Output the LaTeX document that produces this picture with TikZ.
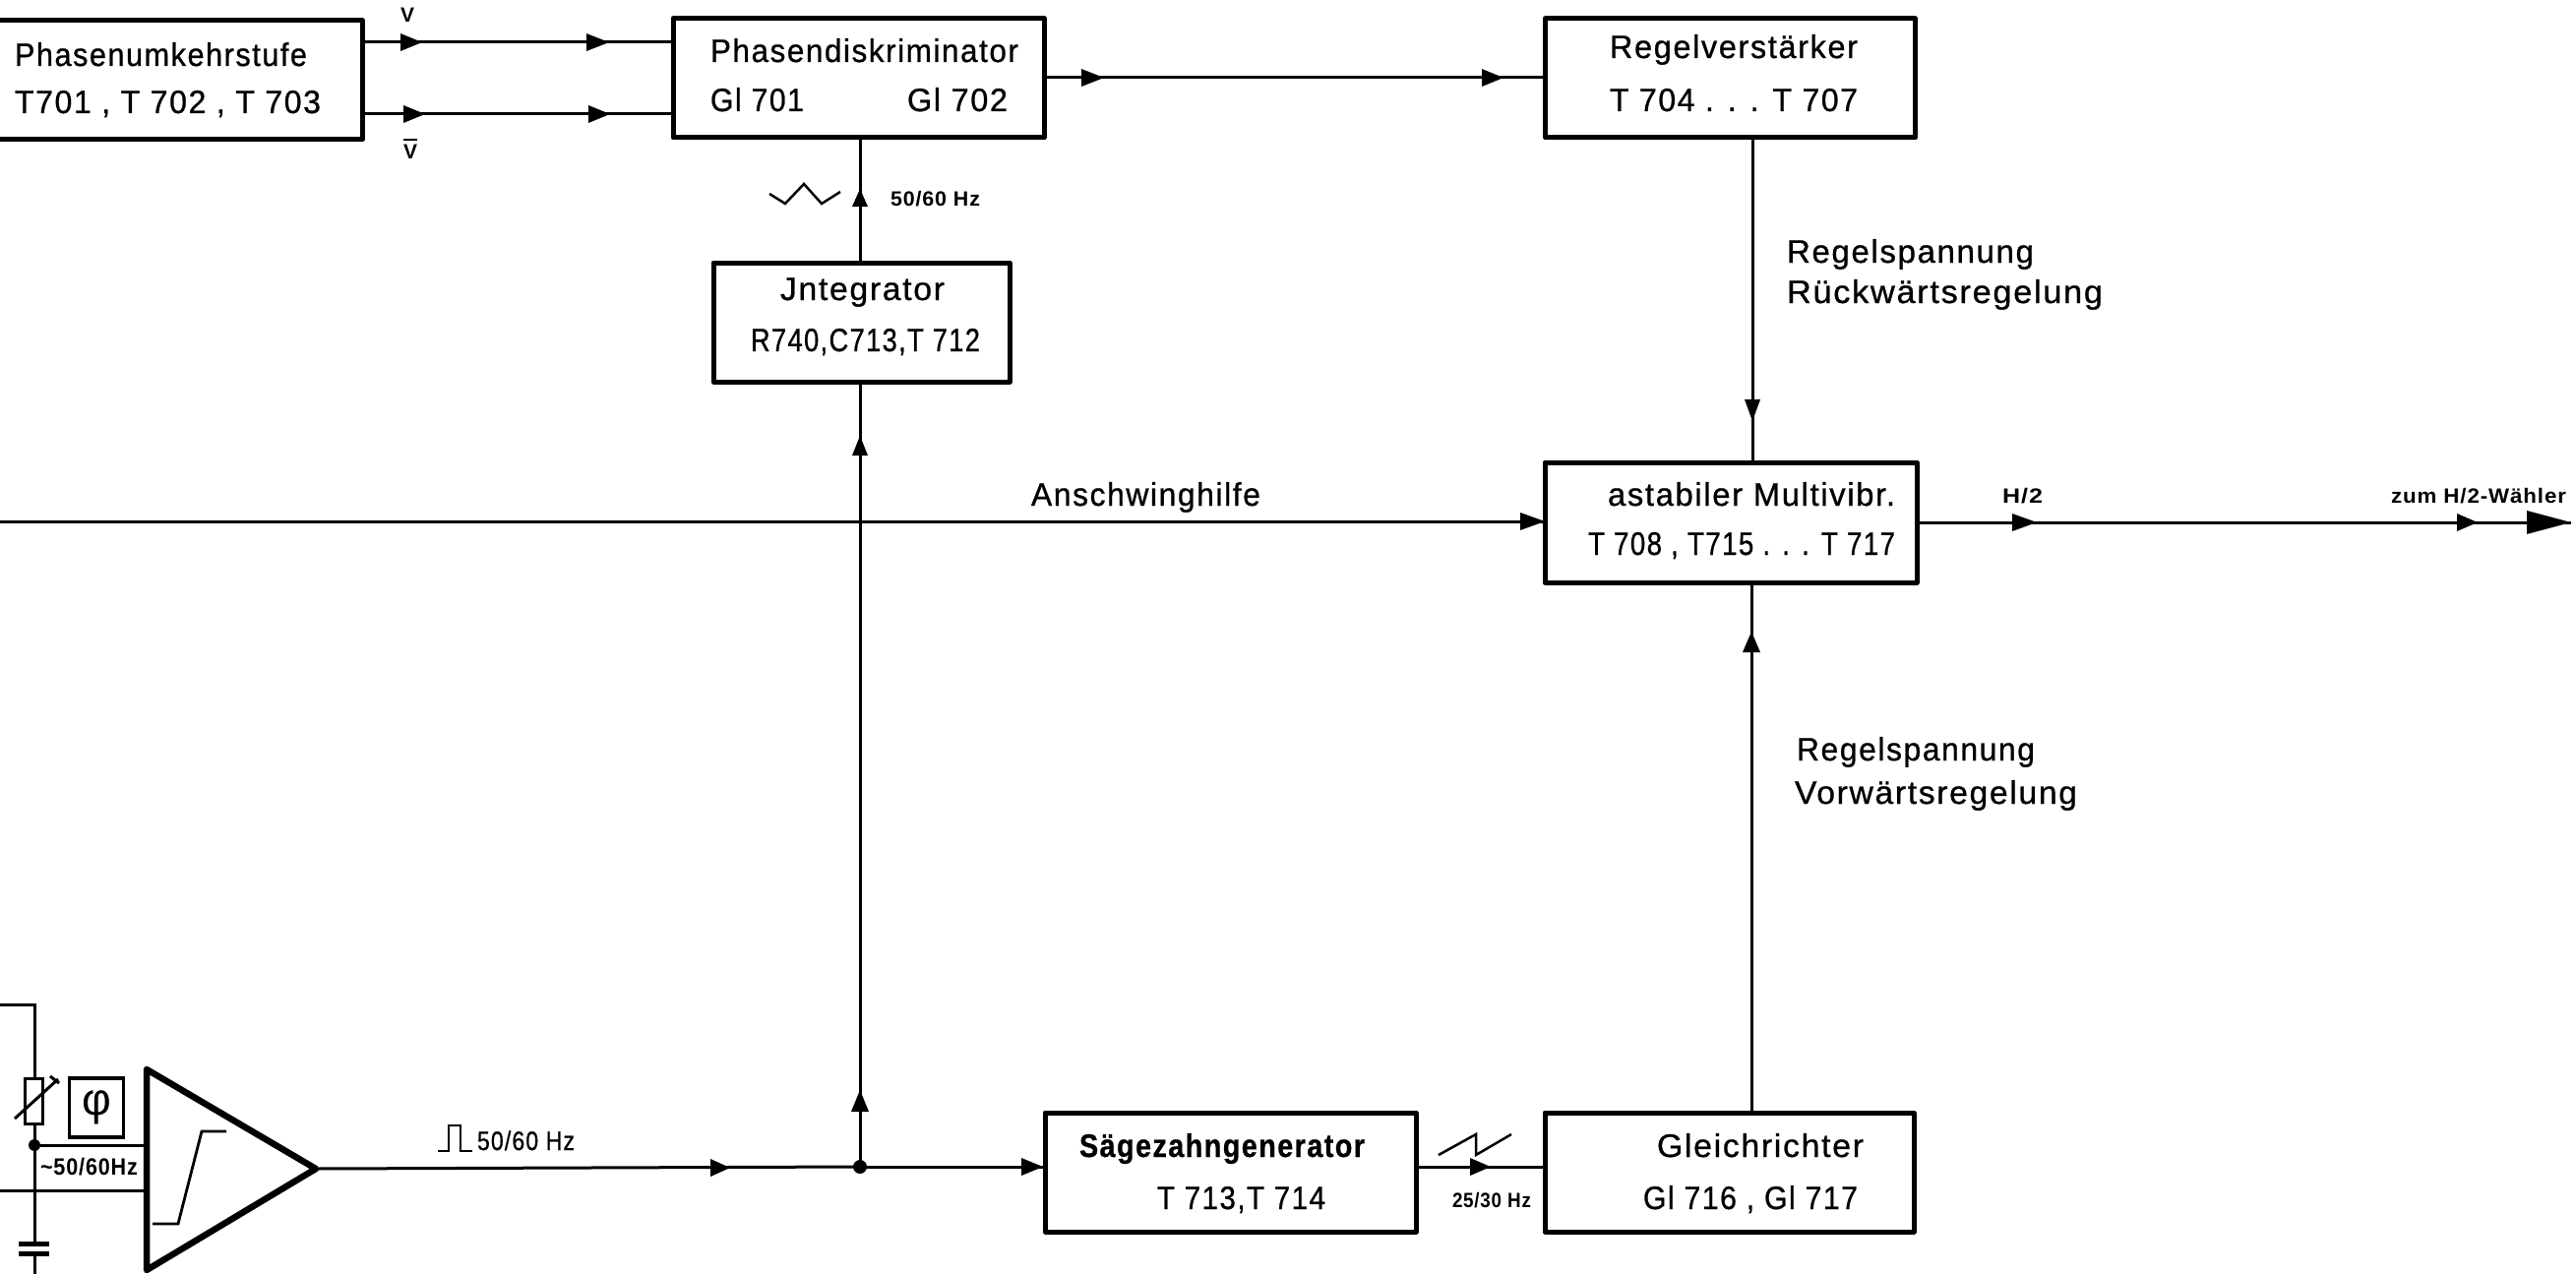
\documentclass[tikz,border=0pt]{standalone}
\usepackage{fontspec}
\usepackage{graphicx}
\setmainfont[FakeBold=0.8,LetterSpace=5]{Liberation Sans}
\newfontfamily\smallf[LetterSpace=4]{Liberation Sans Bold}
\newfontfamily\thinf{Liberation Sans}
\newcommand\fitw[2]{\resizebox{#1pt}{\height}{#2}}
\newcommand\tipR[4]{\fill (#1,#2) -- ++(-#3,#4) -- ++(0,-2*#4) -- cycle;}
\newcommand\tipU[4]{\fill (#1,#2) -- ++(-#4,#3) -- ++(2*#4,0) -- cycle;}
\newcommand\tipD[4]{\fill (#1,#2) -- ++(-#4,-#3) -- ++(2*#4,0) -- cycle;}
\tikzset{
  x=1pt,y=-1pt,
  blk/.style={draw,line width=5pt,rectangle,inner sep=0pt,line join=round},
  con/.style={line width=3pt},
  lbl/.style={anchor=base west,inner sep=0pt,outer sep=0pt,font=\fontsize{33}{36}\selectfont},
  sml/.style={anchor=base west,inner sep=0pt,outer sep=0pt,font=\fontsize{21}{23}\selectfont\smallf},
  jdot/.style={circle,fill,inner sep=0pt,minimum size=#1},
}
\begin{document}
\begin{tikzpicture}
\useasboundingbox (0,0) rectangle (2618,1295);
% blocks (centre from measured edges)
\node[blk,minimum width=378pt,minimum height=121pt] (pk) at (179,81.5) {};
\node[blk,minimum width=377pt,minimum height=121pt] (pd) at (872.5,79.5) {};
\node[blk,minimum width=301pt,minimum height=121pt] (int) at (875.5,327.5) {};
\node[blk,minimum width=376pt,minimum height=121pt] (rv) at (1758.5,79.5) {};
\node[blk,minimum width=378pt,minimum height=122pt] (mv) at (1759,531) {};
\node[blk,minimum width=377pt,minimum height=121pt] (sg) at (1250.5,1191.5) {};
\node[blk,minimum width=375pt,minimum height=121pt] (gr) at (1757.5,1191.5) {};
% block texts
\node[lbl] (t1a) at (15,67) {\fitw{297}{Phasenumkehrstufe}};
\node[lbl] (t1b) at (15,115) {\fitw{311}{T701 , T 702 , T 703}};
\node[lbl] (t2a) at (722,63) {\fitw{313}{Phasendiskriminator}};
\node[lbl] (t2b) at (722,113) {\fitw{95}{Gl 701}};
\node[lbl] (t2c) at (922,113) {\fitw{102}{Gl 702}};
\node[lbl] (t3a) at (793,305) {\fitw{167}{Jntegrator}};
\node[lbl] (t3b) at (763,357) {\fitw{233}{R740,C713,T 712}};
\node[lbl] (t4a) at (1636,59) {\fitw{252}{Regelverstärker}};
\node[lbl] (t4b) at (1636,113) {\fitw{252}{T 704 . . . T 707}};
\node[lbl] (t5a) at (1634,514) {\fitw{292}{astabiler Multivibr.}};
\node[lbl] (t5b) at (1614,564) {\fitw{312}{T 708 , T715 . . . T 717}};
\node[lbl] (t6a) at (1097,1176) {\fitw{290}{\bfseries Sägezahngenerator}};
\node[lbl] (t6b) at (1176,1229) {\fitw{171}{T 713,T 714}};
\node[lbl] (t7a) at (1684,1176) {\fitw{210}{Gleichrichter}};
\node[lbl] (t7b) at (1670,1229) {\fitw{218}{Gl 716 , Gl 717}};
% free labels
\node[lbl] (l1) at (1048,514) {\fitw{233}{Anschwinghilfe}};
\node[lbl] (l2) at (1816,267) {\fitw{251}{Regelspannung}};
\node[lbl] (l3) at (1816,308) {\fitw{321}{Rückwärtsregelung}};
\node[lbl] (l4) at (1826,773) {\fitw{242}{Regelspannung}};
\node[lbl] (l5) at (1824,817) {\fitw{287}{Vorwärtsregelung}};
\node[sml] (s1) at (407,23) {\fitw{14}{V}};
\node[sml] (s2) at (410,161) {\fitw{14}{V\llap{\raisebox{18pt}{\rule{14pt}{2pt}}}}};
\node[sml] (s3) at (905,209) {\fitw{91}{50/60 Hz}};
\node[sml] (s4) at (2035,511) {\fitw{41}{H/2}};
\node[sml] (s5) at (2430,511) {\fitw{178}{zum H/2-Wähler}};
\node[sml] (s6) at (1476,1227) {\fitw{80}{25/30 Hz}};
\node[sml,font=\fontsize{24}{26}\selectfont\smallf] (s7) at (41,1194) {\fitw{99}{\textasciitilde 50/60Hz}};
\node[lbl,font=\fontsize{27}{29}\selectfont] (s8) at (485,1169) {\fitw{99}{50/60 Hz}};
% helper coordinates
\coordinate (ya) at (0,43);
\coordinate (yb) at (0,116);
\coordinate (yc) at (0,79);
\coordinate (in1) at (0,530);
\coordinate (out) at (2613,531);
\coordinate (j) at (874,1186);
% connectors
\draw[con] (pk.east |- ya) -- (pd.west |- ya);
\draw[con] (pk.east |- yb) -- (pd.west |- yb);
\draw[con] (pd.east |- yc) -- (rv.west |- yc);
\draw[con] (int.north -| j) -- (pd.south -| j);
\draw[con] (j) -- (int.south -| j);
\draw[con] (rv.south -| 1781,0) -- (mv.north -| 1781,0);
\draw[con] (in1) -- (mv.west |- in1);
\draw[con] (mv.east |- out) -- (out);
\draw[con] (gr.north -| 1780,0) -- (mv.south -| 1780,0);
\draw[con] (j) -- (sg.west |- j);
\draw[con] (sg.east |- j) -- (gr.west |- j);
\node[jdot=14pt] (jn) at (j) {};
% arrowheads
\tipR{429}{43}{22}{9}
\tipR{619}{43}{23}{9}
\tipR{432}{116}{22}{9}
\tipR{620}{116}{22}{9}
\tipR{1122}{79}{23}{9}
\tipR{1528}{79}{22}{9}
\tipU{874}{192}{18}{8}
\tipU{874}{443}{20}{8}
\tipD{1781}{428}{22}{8}
\tipR{1570}{530}{25}{9}
\tipU{1780}{642}{21}{9}
\tipR{2070}{531}{25}{9}
\tipR{2518}{531}{21}{9}
\tipR{2613}{531}{45}{12}
\tipU{874}{1108}{22}{9}
\tipR{742}{1187}{20}{9}
\tipR{1060}{1186}{22}{9}
\tipR{1515}{1186}{21}{9}
% wave symbols
\draw[line width=2.5pt,line join=miter] (782,197) -- (798,207) -- (817,187) -- (835,207) -- (854,195);
\draw[line width=2.5pt] (1462,1174) -- (1500,1153) -- (1500,1174) -- (1536,1153);
\draw[line width=2.5pt] (445,1170) -- (456,1170) -- (456,1144) -- (468,1144) -- (468,1170) -- (480,1170);
% input stage
\coordinate (r1) at (35,1096);
\coordinate (r2) at (35,1142);
\coordinate (cu) at (35,1264);
\coordinate (cl) at (35,1274);
\node[draw,line width=3pt,rectangle,inner sep=0pt,minimum width=18pt,minimum height=46pt] (res) at (34.5,1119) {};
\node[draw,line width=3.5pt,rectangle,inner sep=0pt,minimum width=55pt,minimum height=60pt,font=\fontsize{46}{48}\selectfont\thinf] (phi) at (98,1126) {φ};
\coordinate (tl) at (149,1087);
\coordinate (tb) at (149,1291);
\coordinate (tr) at (321,1188);
\draw[line width=6.5pt,line join=round] (tl) -- (tr) -- (tb) -- cycle;
\draw[con] (tr) -- (j);
\draw[line width=2.8pt] (155,1244) -- (181,1244) -- (205,1150) -- (230,1150);
\draw[con] (0,1021) -- (35,1021) -- (res.north -| r1);
\draw[con] (res.south -| r2) -- (cu);
\draw[con] (cl) -- (35,1295);
\draw[line width=3pt] (15,1137) -- (59,1097);
\draw[line width=3pt] (51,1094) -- (60,1101);
\node[jdot=12pt] (jr) at (35,1164) {};
\draw[con] (jr) -- (tl |- jr);
\draw[con] (0,1210) -- (tl |- 0,1210);
\draw[line width=5pt] (19,1264) -- (50,1264);
\draw[line width=5pt] (19,1274) -- (50,1274);
\end{tikzpicture}
\end{document}
